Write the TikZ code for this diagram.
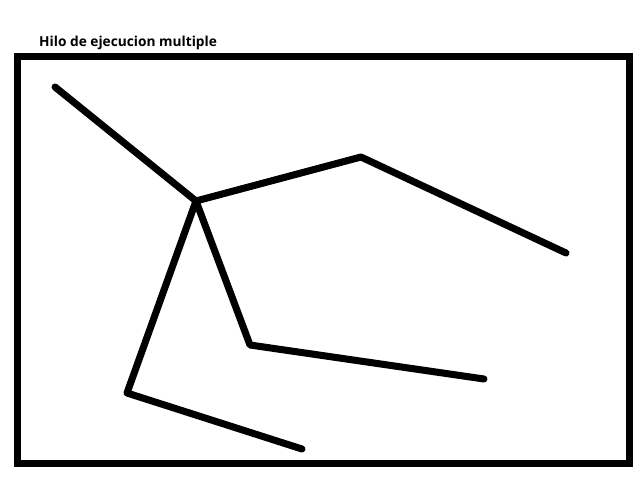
\documentclass[tikz,border=0pt]{standalone}
\usepackage{fontspec}
\setsansfont{Open Sans}
\usetikzlibrary{positioning}

\begin{document}
\begin{tikzpicture}[
  x=0.03cm, y=-0.03cm,
  frame/.style={draw=black, line width=6pt},
  hilo/.style={draw=black, line width=6pt, line cap=round, line join=round},
  titulo/.style={anchor=base west, inner sep=0pt, font=\sffamily\bfseries\fontsize{11.7}{13}\selectfont}
]
\useasboundingbox (0,0) rectangle (640,480);
\draw[frame] (17.5,56.5) rectangle (629.5,463.5);
\node[titulo] (tit) at (39,47) {Hilo de ejecucion multiple};

% puntos de los hilos
\coordinate (ini) at (55,87);
\coordinate (raiz) at (196,201);
\coordinate (c1) at (361,157);
\coordinate (f1) at (566,253);
\coordinate (c2) at (250,345);
\coordinate (f2) at (484,379);
\coordinate (c3) at (127,393);
\coordinate (f3) at (302,449);

\draw[hilo] (ini) -- (raiz);
\draw[hilo] (raiz) -- (c1) -- (f1);
\draw[hilo] (raiz) -- (c2) -- (f2);
\draw[hilo] (raiz) -- (c3) -- (f3);
\end{tikzpicture}
\end{document}
